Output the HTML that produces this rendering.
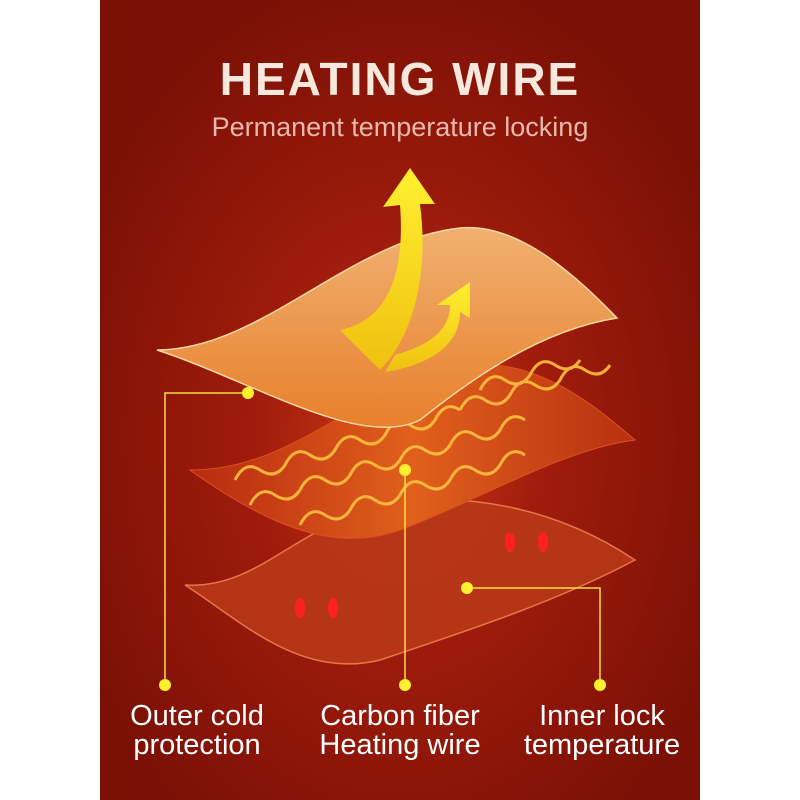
<!DOCTYPE html>
<html><head><style>
body{margin:0;background:#fff;}
svg{display:block}
text{font-family:"Liberation Sans",sans-serif;}
</style></head><body>
<svg width="800" height="800" viewBox="0 0 800 800" xmlns="http://www.w3.org/2000/svg">
<defs>
<radialGradient id="bg" cx="0.5" cy="0.55" r="0.6">
<stop offset="0" stop-color="#cc3a16"/>
<stop offset="0.4" stop-color="#a01c0c"/>
<stop offset="1" stop-color="#7a1006"/>
</radialGradient>
<linearGradient id="top" x1="0" y1="0" x2="0" y2="1">
<stop offset="0" stop-color="#f0b070"/>
<stop offset="1" stop-color="#e8802c"/>
</linearGradient>
<linearGradient id="mid" x1="0" y1="0" x2="1" y2="0">
<stop offset="0" stop-color="#b82a10"/>
<stop offset="0.5" stop-color="#e0601c"/>
<stop offset="1" stop-color="#b83010"/>
</linearGradient>
<linearGradient id="arr" x1="0" y1="0" x2="0" y2="1">
<stop offset="0" stop-color="#fff030"/>
<stop offset="1" stop-color="#f0c010"/>
</linearGradient>
</defs>
<rect x="100" y="0" width="600" height="800" fill="url(#bg)"/>
<text x="400" y="95" text-anchor="middle" font-size="46" font-weight="bold" letter-spacing="2" fill="#f6e8dc">HEATING WIRE</text>
<text x="400" y="136" text-anchor="middle" font-size="27" fill="#e8b8aa">Permanent temperature locking</text>
<!-- bottom layer -->
<path d="M185,585 C260,590 300,520 390,505 C470,490 560,510 635,560 C560,600 470,630 380,660 C300,680 240,620 185,585 Z" fill="#b83818" stroke="#f08050" stroke-width="1.5" opacity="0.9"/>
<ellipse cx="300" cy="608" rx="5" ry="10" fill="#ff2020"/><ellipse cx="333" cy="608" rx="5" ry="10" fill="#ff2020"/>
<ellipse cx="510" cy="542" rx="5" ry="10" fill="#ff2020"/><ellipse cx="543" cy="542" rx="5" ry="10" fill="#ff2020"/>
<!-- middle layer -->
<path d="M190,470 C300,470 360,380 470,365 C540,358 600,410 635,440 C560,450 480,500 400,530 C330,555 260,520 190,470 Z" fill="url(#mid)" stroke="#e05020"/>
<g fill="none" stroke="#ffc040" stroke-width="3" opacity="0.9">
<path d="M235,480 q10,-20 25,-10 q15,10 25,-5 q10,-20 25,-10 q15,10 25,-5 q10,-20 25,-10 q15,10 25,-5 q10,-20 25,-10 q15,10 25,-5 q10,-20 25,-10"/>
<path d="M250,505 q10,-20 25,-10 q15,10 25,-5 q10,-20 25,-10 q15,10 25,-5 q10,-20 25,-10 q15,10 25,-5 q10,-20 25,-10 q15,10 25,-5 q10,-20 25,-10 q15,10 25,-5 q10,-20 25,-10"/>
<path d="M300,525 q10,-20 25,-10 q15,10 25,-5 q10,-20 25,-10 q15,10 25,-5 q10,-20 25,-10 q15,10 25,-5 q10,-20 25,-10 q15,10 25,-5 q10,-20 25,-10"/>
<path d="M460,410 q10,-20 25,-10 q15,10 25,-5 q10,-20 25,-10 q15,10 25,-5 q10,-20 25,-10 q15,10 25,-5"/>
<path d="M480,390 q10,-20 25,-10 q15,10 25,-5 q10,-20 25,-10 q15,10 25,-5"/>
</g>
<!-- top layer -->
<path d="M157,350 C260,350 350,240 460,228 C520,222 580,280 617,318 C540,330 470,380 420,420 C360,450 250,380 157,350 Z" fill="url(#top)" stroke="#f8d8a0" stroke-width="1.5"/>
<!-- arrow -->
<path d="M340,330 C390,320 405,270 400,205 L383,207 L410,168 L435,204 L420,204 C430,280 410,340 380,370 Z" fill="url(#arr)"/>
<path d="M395,355 C430,345 450,330 450,305 L437,305 L470,282 L470,318 L460,312 C460,345 430,365 385,372 Z" fill="url(#arr)"/>
<!-- connectors -->
<g stroke="#f0e040" stroke-width="1.5" fill="none">
<polyline points="248,393 165,393 165,685"/>
<line x1="405" y1="470" x2="405" y2="685"/>
<polyline points="467,588 600,588 600,685"/>
</g>
<g fill="#fff030">
<circle cx="248" cy="393" r="6"/><circle cx="165" cy="685" r="6"/>
<circle cx="405" cy="470" r="6"/><circle cx="405" cy="685" r="6"/>
<circle cx="467" cy="588" r="6"/><circle cx="600" cy="685" r="6"/>
</g>
<g font-size="29" fill="#fff" text-anchor="middle">
<text x="197" y="725">Outer cold</text><text x="197" y="754">protection</text>
<text x="400" y="725">Carbon fiber</text><text x="400" y="754">Heating wire</text>
<text x="602" y="725">Inner lock</text><text x="602" y="754">temperature</text>
</g>
</svg>
</body></html>
